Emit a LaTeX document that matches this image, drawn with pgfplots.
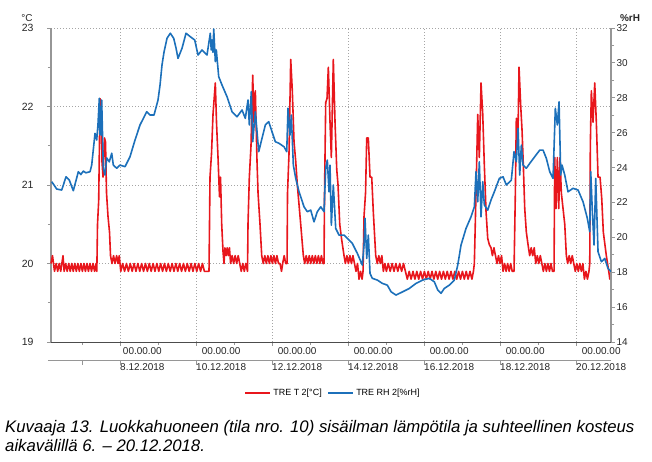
\documentclass[border=0pt]{standalone}
\usepackage{fontspec}
\setmainfont{Liberation Sans}
\usepackage{pgfplots}
\pgfplotsset{compat=1.18}
\definecolor{tred}{RGB}{232,22,28}
\definecolor{rhblue}{RGB}{28,112,186}
\definecolor{axgray}{RGB}{150,150,150}
\definecolor{gridgray}{RGB}{165,165,165}
\begin{document}
\begin{tikzpicture}
\useasboundingbox (0,0) rectangle (652bp,462bp);
\pgfplotsset{
  commonax/.style={
    at={(51bp,120bp)}, anchor=south west, scale only axis,
    width=560bp, height=314bp, xmin=0.184, xmax=14.92,
    /pgf/number format/assume math mode=true,
    tick align=outside, major tick length=4bp, minor tick length=3bp,
    tick style={axgray, line width=0.8bp},
  }
}
\begin{axis}[commonax, clip=false,
  ymin=19, ymax=23,
  axis x line*=bottom, axis y line*=left,
  ytick={19,20,21,22,23}, minor ytick={19.5,20.5,21.5,22.5},
  xtick={2,4,6,8,10,12,14}, minor xtick={1,3,5,7,9,11,13},
  xticklabels={{00.00.00\\8.12.2018},{00.00.00\\10.12.2018},{00.00.00\\12.12.2018},{00.00.00\\14.12.2018},{00.00.00\\16.12.2018},{00.00.00\\18.12.2018},{00.00.00\\20.12.2018}},
  xticklabel style={align=center, anchor=north west, inner xsep=0pt, inner ysep=1bp, font=\fontsize{10}{16}\selectfont, text=black!85},
  yticklabel style={font=\fontsize{10.5}{12}\selectfont, xshift=-10bp, text=black!85},
  xmajorgrids, ymajorgrids,
  major grid style={gridgray, dash pattern=on 1bp off 2bp, line width=0.8bp},
  y axis line style={axgray, line width=1.5bp},
  x axis line style={black!70, line width=0.8bp},
]
\addplot[tred, line width=1.6bp, line join=round] coordinates {
(0.184,20.0)(0.224,20.1)(0.276,19.9)(0.32,20.0)(0.36,19.9)(0.40,20.0)(0.44,19.9)(0.50,20.1)(0.53,19.9)
(0.57,20.0)(0.61,19.9)(0.65,20.0)(0.69,19.9)(0.73,20.0)(0.77,19.9)(0.81,20.0)(0.85,19.9)(0.89,20.0)(0.93,19.9)(0.97,20.0)(1.01,19.9)(1.05,20.0)(1.09,19.9)(1.13,20.0)(1.17,19.9)(1.21,20.0)(1.25,19.9)(1.29,20.0)(1.33,19.9)(1.37,20.0)(1.39,19.9)
(1.408,20.5)(1.439,20.8)(1.461,21.6)(1.474,22.1)(1.50,22.05)(1.526,21.3)(1.553,21.1)(1.592,21.6)(1.618,21.55)(1.645,20.9)(1.684,20.6)(1.724,20.4)(1.75,20.1)
(1.79,20.0)(1.83,20.1)(1.87,20.0)(1.91,20.1)(1.95,20.0)(1.98,20.1)
(2.02,19.9)(2.07,20.0)(2.12,19.9)(2.17,20.0)(2.22,19.9)(2.27,20.0)(2.32,19.9)(2.37,20.0)(2.42,19.9)(2.47,20.0)(2.52,19.9)(2.57,20.0)(2.62,19.9)(2.67,20.0)(2.72,19.9)(2.77,20.0)(2.82,19.9)(2.87,20.0)(2.92,19.9)(2.97,20.0)(3.02,19.9)(3.07,20.0)(3.12,19.9)(3.17,20.0)(3.22,19.9)(3.27,20.0)(3.32,19.9)(3.37,20.0)(3.42,19.9)(3.47,20.0)(3.52,19.9)(3.57,20.0)(3.62,19.9)(3.67,20.0)(3.72,19.9)(3.77,20.0)(3.82,19.9)(3.87,20.0)(3.92,19.9)(3.97,20.0)(4.02,19.9)(4.07,20.0)(4.12,19.9)(4.17,20.0)(4.22,19.9)(4.342,19.9)
(4.368,21.1)(4.408,21.4)(4.447,21.9)(4.508,22.3)(4.539,21.8)(4.579,21.35)(4.618,20.85)(4.645,21.1)(4.676,20.5)(4.711,20.15)(4.737,20.0)
(4.76,20.2)(4.79,20.1)(4.82,20.2)(4.85,20.1)(4.88,20.2)
(4.91,20.0)(4.95,20.1)(4.99,20.0)(5.03,20.1)(5.07,20.0)(5.11,20.1)(5.15,20.0)(5.19,19.9)(5.23,20.0)(5.27,19.9)(5.31,20.0)(5.355,19.9)
(5.368,20.5)(5.403,21.1)(5.447,21.5)(5.492,22.4)(5.526,21.8)(5.561,22.2)(5.605,21.3)(5.632,20.9)(5.684,20.5)(5.729,20.1)
(5.77,20.0)(5.81,20.1)(5.85,20.0)(5.89,20.1)(5.93,20.0)(5.97,20.1)(6.01,20.0)(6.05,20.1)(6.09,20.0)(6.13,20.1)(6.17,20.0)(6.21,20.0)(6.25,19.9)(6.28,20.0)(6.32,20.1)(6.36,20.0)(6.395,20.0)
(6.408,20.9)(6.447,21.4)(6.492,22.6)(6.534,22.2)(6.579,21.55)(6.624,21.3)(6.666,21.0)(6.755,20.5)(6.824,20.1)
(6.86,20.0)(6.90,20.1)(6.94,20.0)(6.98,20.1)(7.02,20.0)(7.06,20.1)(7.10,20.0)(7.14,20.1)(7.18,20.0)(7.22,20.1)(7.26,20.0)(7.30,20.1)(7.34,20.0)(7.368,20.0)
(7.382,20.9)(7.413,22.05)(7.447,22.1)(7.482,22.5)(7.526,21.8)(7.561,21.35)(7.613,22.6)(7.658,21.8)(7.703,21.2)(7.737,21.0)(7.782,20.5)(7.834,20.3)(7.895,20.1)
(7.93,20.0)(7.97,20.1)(8.01,20.0)(8.05,20.1)(8.09,20.0)(8.13,20.1)(8.17,20.0)(8.21,19.9)(8.25,20.0)(8.29,19.8)(8.33,19.9)(8.37,19.8)(8.395,19.9)
(8.421,20.6)(8.461,20.9)(8.492,21.6)(8.534,21.6)(8.579,21.1)(8.624,21.1)(8.666,20.65)(8.729,20.1)
(8.77,20.0)(8.81,20.1)(8.85,20.0)(8.89,20.1)(8.93,19.9)(8.97,20.0)
(9.01,19.9)(9.06,20.0)(9.11,19.9)(9.16,20.0)(9.21,19.9)(9.26,20.0)(9.31,19.9)(9.36,20.0)(9.41,19.9)(9.46,20.0)(9.51,19.9)
(9.56,19.8)(9.61,19.9)(9.66,19.8)(9.71,19.9)(9.76,19.8)(9.81,19.9)(9.86,19.8)(9.91,19.9)(9.96,19.8)(10.01,19.9)(10.06,19.8)(10.11,19.9)(10.16,19.8)(10.21,19.9)(10.26,19.8)(10.31,19.9)(10.36,19.8)(10.41,19.9)(10.46,19.8)(10.51,19.9)(10.56,19.8)(10.61,19.9)(10.66,19.8)(10.71,19.9)(10.76,19.8)(10.81,19.9)(10.86,19.8)(10.91,19.9)(10.96,19.8)(11.01,19.9)(11.06,19.8)(11.11,19.9)(11.16,19.8)(11.21,19.9)(11.26,19.8)(11.30,19.9)
(11.324,20.0)(11.368,20.9)(11.413,21.9)(11.455,21.35)(11.5,22.3)(11.545,21.9)(11.587,21.25)(11.632,20.66)(11.676,20.32)(11.718,20.24)(11.763,20.2)
(11.80,20.1)(11.84,20.2)(11.88,20.1)(11.92,20.0)(11.96,20.1)(12.00,20.0)(12.04,20.1)(12.08,19.9)(12.12,20.0)(12.16,19.9)(12.20,20.0)(12.24,19.9)(12.28,20.0)(12.32,19.9)(12.368,19.9)
(12.403,20.9)(12.429,21.85)(12.474,21.7)(12.5,22.5)(12.545,22.0)(12.579,21.7)(12.613,21.25)(12.65,20.7)(12.692,20.4)(12.737,20.24)
(12.78,20.1)(12.82,20.2)(12.86,20.1)(12.90,20.2)(12.94,20.0)(12.98,20.1)(13.02,20.0)(13.06,20.1)(13.10,20.0)(13.14,19.9)(13.18,20.0)(13.22,19.9)(13.26,20.0)(13.30,19.9)(13.34,20.0)(13.38,19.9)(13.421,19.9)
(13.439,21.35)(13.474,20.7)(13.508,21.35)(13.545,20.7)(13.579,21.35)(13.613,20.9)(13.703,20.5)(13.745,20.1)
(13.78,20.0)(13.82,20.1)(13.86,20.0)(13.90,20.1)(13.94,20.0)(13.98,19.9)(14.02,20.0)(14.06,19.9)(14.10,20.0)(14.14,19.9)(14.18,20.0)(14.22,19.8)(14.26,19.9)(14.30,19.8)(14.34,19.9)
(14.361,20.0)(14.376,21.5)(14.403,22.2)(14.447,21.8)(14.492,22.3)(14.534,21.8)(14.579,21.1)(14.632,21.1)(14.676,20.83)(14.718,20.4)(14.797,20.1)(14.861,19.9)(14.89,19.8)(14.92,19.8)
};
% second tick row line
\draw[axgray, line width=0.8bp] ([yshift=-18bp,xshift=-3bp]rel axis cs:0,0) -- ([yshift=-18bp]rel axis cs:1,0);
\pgfplotsinvokeforeach{1,2,4,6,8,10,12,14}{
  \draw[axgray, line width=0.8bp] ([yshift=-18bp]axis cs:#1,19) -- ([yshift=-23bp]axis cs:#1,19);
}
\end{axis}
\begin{axis}[commonax,
  ymin=14, ymax=32,
  axis y line*=right, axis x line=none,
  ytick={14,16,...,32}, minor ytick={15,17,...,31},
  yticklabel style={font=\fontsize{10}{12}\selectfont, xshift=-2bp, text=black!85},
  y axis line style={axgray, line width=1.5bp},
  legend style={at={(0.503,-0.163)}, anchor=center, draw=none, fill=none,
    legend columns=2, font=\fontsize{9}{10}\selectfont, inner sep=0pt,
    /tikz/every even column/.append style={column sep=3bp}},
  legend image code/.code={\draw[#1] (0bp,0bp) -- (25bp,0bp);},
]
\addlegendimage{tred, line width=2.5bp}
\addlegendentry{TRE T 2[°C]}
\addlegendimage{rhblue, line width=2.5bp}
\addlegendentry{TRE RH 2[\%rH]}
\addplot[rhblue, line width=1.6bp, line join=round, forget plot] coordinates {
(0.203,23.19)(0.334,22.77)(0.466,22.71)(0.579,23.47)(0.666,23.28)(0.771,22.67)(0.903,23.76)(0.97,23.6)(1.034,23.8)(1.1,23.7)(1.211,23.76)(1.255,24.14)(1.342,25.96)(1.387,25.58)(1.421,26.5)(1.455,27.97)(1.47,25.9)(1.482,27.5)(1.50,25.86)(1.518,27.87)(1.561,23.97)(1.605,23.57)(1.65,24.55)(1.718,24.33)(1.782,24.82)(1.824,24.14)(1.913,23.96)(2.0,24.14)(2.132,24.05)(2.263,24.62)(2.395,25.58)(2.526,26.44)(2.703,27.2)(2.789,27.01)(2.895,27.01)(3.0,27.87)(3.053,28.73)(3.105,29.88)(3.158,30.62)(3.237,31.41)(3.324,31.70)(3.413,31.41)(3.474,30.85)(3.526,30.26)(3.632,30.84)(3.737,31.70)(3.85,31.5)(3.966,31.31)(4.053,30.45)(4.158,30.74)(4.289,30.45)(4.376,31.70)(4.4,30.74)(4.421,31.31)(4.447,30.6)(4.466,31.94)(4.49,30.9)(4.508,30.07)(4.534,30.74)(4.597,29.21)(4.684,28.73)(4.816,28.06)(4.947,27.2)(5.079,26.91)(5.211,27.3)(5.297,26.82)(5.368,27.87)(5.403,26.44)(5.455,28.35)(5.492,25.48)(5.561,27.2)(5.65,24.91)(5.737,25.68)(5.824,26.44)(5.913,26.63)(6.0,26.05)(6.087,25.48)(6.184,25.39)(6.316,25.19)(6.387,24.91)(6.421,27.4)(6.474,25.86)(6.508,27.01)(6.561,24.14)(6.624,23.38)(6.711,22.61)(6.842,21.75)(6.929,21.47)(7.018,21.56)(7.105,20.89)(7.192,21.47)(7.282,21.75)(7.368,21.47)(7.413,23.96)(7.455,24.43)(7.5,22.61)(7.526,24.14)(7.561,20.7)(7.613,23.0)(7.676,20.51)(7.763,20.13)(7.895,20.13)(7.982,19.94)(8.113,19.65)(8.245,19.08)(8.376,18.41)(8.421,19.56)(8.447,21.09)(8.492,18.79)(8.534,20.13)(8.579,17.93)(8.639,17.65)(8.771,17.55)(8.903,17.36)(9.034,17.26)(9.132,16.88)(9.263,16.69)(9.439,16.88)(9.613,17.07)(9.789,17.36)(9.966,17.55)(10.139,17.65)(10.271,17.45)(10.361,16.98)(10.447,16.79)(10.534,17.07)(10.666,17.26)(10.797,17.55)(10.887,18.41)(10.974,19.56)(11.105,20.51)(11.237,21.18)(11.324,21.75)(11.368,23.76)(11.413,22.04)(11.455,24.33)(11.5,21.18)(11.545,23.19)(11.587,21.85)(11.676,21.56)(11.763,22.14)(11.85,22.61)(11.982,23.38)(12.079,23.47)(12.166,23.0)(12.297,23.28)(12.368,24.91)(12.429,24.33)(12.474,26.25)(12.518,23.57)(12.561,25.29)(12.605,24.14)(12.692,23.96)(12.782,24.24)(12.913,24.62)(13.045,25.0)(13.132,25.0)(13.218,24.53)(13.308,23.76)(13.395,23.38)(13.455,27.4)(13.508,26.44)(13.553,27.77)(13.597,23.57)(13.632,24.14)(13.703,23.57)(13.789,22.61)(13.921,22.81)(14.053,22.71)(14.184,22.04)(14.297,21.09)(14.361,20.32)(14.387,23.76)(14.429,21.47)(14.474,19.56)(14.518,23.38)(14.579,19.17)(14.666,18.6)(14.755,18.79)(14.842,18.22)(14.92,18.03)
};
\end{axis}
\node[font=\fontsize{10}{12}\selectfont, text=black!85] at (27bp,444bp) {°C};
\node[font=\fontsize{10}{12}\selectfont\bfseries, text=black!85] at (630bp,444bp) {\%rH};
\node[anchor=north west, inner sep=0pt, align=left, font=\fontsize{16.8}{19.5}\selectfont\itshape] at (5bp,42bp) {Kuvaaja 13. Luokkahuoneen (tila nro. 10) sisäilman lämpötila ja suhteellinen kosteus\\aikavälillä 6. – 20.12.2018.};
\end{tikzpicture}
\end{document}
